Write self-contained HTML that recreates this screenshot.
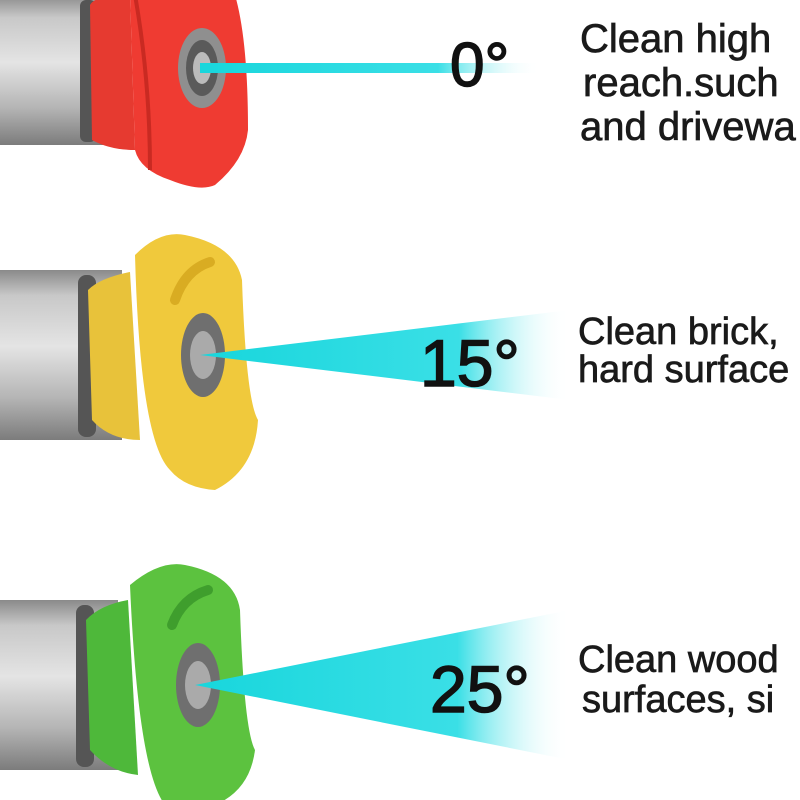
<!DOCTYPE html>
<html><head><meta charset="utf-8"><style>
html,body{margin:0;padding:0;background:#fff;width:800px;height:800px;overflow:hidden}
svg{display:block}
text{font-family:"Liberation Sans",sans-serif;fill:#111}
.t{fill:#1a1a1a;stroke:#1a1a1a;stroke-width:0.7}
.d{stroke:#111;stroke-width:1.5}
</style></head><body>
<svg width="800" height="800" viewBox="0 0 800 800" xmlns="http://www.w3.org/2000/svg">
<defs>
<linearGradient id="metal" x1="0" y1="0" x2="0" y2="1">
<stop offset="0" stop-color="#8a8a8a"/><stop offset="0.15" stop-color="#c8c8c8"/><stop offset="0.45" stop-color="#e4e4e4"/><stop offset="0.75" stop-color="#b5b5b5"/><stop offset="1" stop-color="#7c7c7c"/>
</linearGradient>
<linearGradient id="beam" x1="0" y1="0" x2="1" y2="0">
<stop offset="0" stop-color="#18d6dc"/><stop offset="0.7" stop-color="#3adfe6"/><stop offset="1" stop-color="#ffffff" stop-opacity="0"/>
</linearGradient>
</defs>

<rect x="0" y="-5" width="110" height="150" fill="url(#metal)"/>
<rect x="80" y="0" width="16" height="142" rx="6" fill="#555"/>
<path d="M90 5 Q95 -5 130 -5 L135 150 Q110 150 92 140 Z" fill="#e63a30"/>
<path d="M130 -5 L235 -5 Q248 40 248 130 Q245 160 215 185 Q200 192 170 180 Q140 170 135 150 Z" fill="#ef3b32"/>
<path d="M135 -5 Q150 80 150 170" stroke="#c92a22" stroke-width="4" fill="none"/>
<ellipse cx="202" cy="68" rx="24" ry="40" fill="#8f8f8f"/>
<ellipse cx="202" cy="68" rx="16" ry="28" fill="#5a5a5a"/>
<ellipse cx="202" cy="68" rx="9" ry="16" fill="#bbb"/>
<rect x="200" y="63" width="340" height="10" fill="url(#beam)"/>
<text class="d" x="450" y="86" font-size="62">0°</text>
<text class="t" x="580" y="52" font-size="40">Clean high</text>
<text class="t" x="583" y="96" font-size="40">reach.such</text>
<text class="t" x="580" y="140" font-size="40">and drivewa</text>

<rect x="0" y="270" width="122" height="170" fill="url(#metal)"/>
<rect x="78" y="275" width="18" height="162" rx="8" fill="#555"/>
<path d="M88 290 Q100 278 130 272 L140 440 Q110 440 92 420 Z" fill="#e8c23a"/>
<path d="M135 255 Q160 230 185 235 Q235 245 242 280 Q246 400 258 420 Q255 470 215 490 Q185 488 170 470 Q140 440 135 255 Z" fill="#f0c93c"/>
<path d="M175 300 Q185 270 210 262" stroke="#d9ac22" stroke-width="10" fill="none" stroke-linecap="round"/>
<ellipse cx="203" cy="355" rx="22" ry="42" fill="#6f6f6f"/>
<ellipse cx="203" cy="355" rx="13" ry="24" fill="#aaa"/>
<polygon points="200,355 570,310 570,400" fill="url(#beam)"/>
<text class="d" x="420" y="386" font-size="66">15°</text>
<text class="t" x="578" y="344" font-size="38">Clean brick,</text>
<text class="t" x="578" y="382" font-size="38">hard surface</text>

<rect x="0" y="600" width="118" height="170" fill="url(#metal)"/>
<rect x="76" y="605" width="18" height="162" rx="8" fill="#555"/>
<path d="M86 620 Q100 605 128 600 L138 775 Q110 772 90 750 Z" fill="#4eb83a"/>
<path d="M130 585 Q160 560 185 565 Q235 575 240 610 Q244 730 255 750 Q250 790 215 805 L165 805 Q138 770 130 585 Z" fill="#5cc23f"/>
<path d="M172 625 Q182 598 208 590" stroke="#3f9e2d" stroke-width="10" fill="none" stroke-linecap="round"/>
<ellipse cx="198" cy="685" rx="22" ry="42" fill="#6f6f6f"/>
<ellipse cx="198" cy="685" rx="13" ry="24" fill="#aaa"/>
<polygon points="195,685 570,610 570,760" fill="url(#beam)"/>
<text class="d" x="430" y="712" font-size="66">25°</text>
<text class="t" x="578" y="672" font-size="38">Clean wood</text>
<text class="t" x="582" y="712" font-size="38">surfaces, si</text>
</svg>
</body></html>
